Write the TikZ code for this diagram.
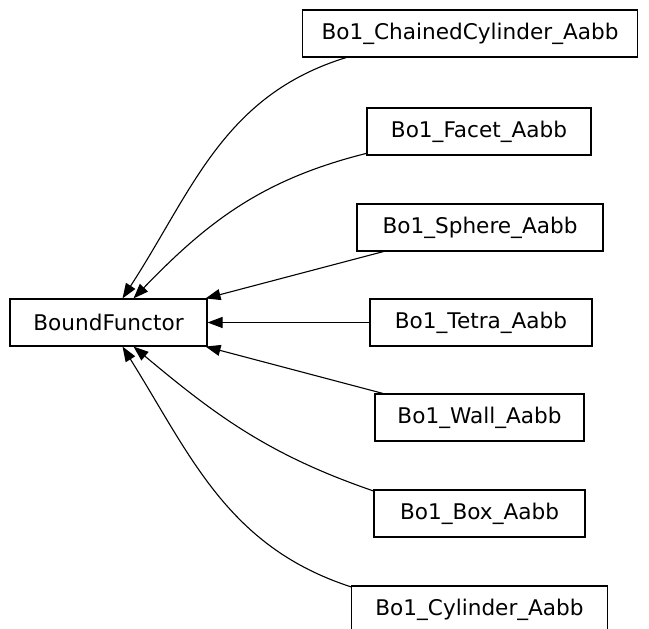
\documentclass[tikz,border=0pt]{standalone}
\usepackage{fontspec}
\setmainfont{DejaVu Sans}
\usetikzlibrary{arrows.meta}
\tikzset{
  klasse/.style={draw, line width=1.1pt, fill=white, inner xsep=19pt, minimum height=47pt, font=\fontsize{21.6}{26}\selectfont},
  pfeil/.style={line width=1.1pt, -{Triangle[length=15pt,width=11pt]}}
}
\begin{document}
\begin{tikzpicture}[x=1pt,y=1pt]
        \useasboundingbox (0,0) rectangle (649,-629);                                            % Rahmen
        \node[klasse, minimum width=197pt] (bound) at (108.5,-322.5) {BoundFunctor};              % Basisklasse
        \node[klasse, minimum width=334pt] (chained) at (470,-33.5) {Bo1\_ChainedCylinder\_Aabb}; % abgeleitete Klassen
        \node[klasse, minimum width=224pt] (facet) at (479,-131.5) {Bo1\_Facet\_Aabb};
        \node[klasse, minimum width=246pt] (sphere) at (480,-227.5) {Bo1\_Sphere\_Aabb};
        \node[klasse, minimum width=222pt] (tetra) at (481,-322.5) {Bo1\_Tetra\_Aabb};
        \node[klasse, minimum width=209pt] (wall) at (479.5,-417.5) {Bo1\_Wall\_Aabb};
        \node[klasse, minimum width=211pt] (box) at (479.5,-513.5) {Bo1\_Box\_Aabb};
        \node[klasse, minimum width=256pt] (cyl) at (479.5,-609.5) {Bo1\_Cylinder\_Aabb};
        \draw[pfeil] (chained.191) to[out=197,in=57] ([xshift=14pt]bound.north);                  % Vererbung oben
        \draw[pfeil] (facet.191) to[out=194,in=46] ([xshift=25pt]bound.north);
        \draw[pfeil] (sphere.194) -- ([xshift=-2pt]bound.north east);
        \draw[pfeil] (tetra) -- (bound);                                                         % Vererbung gerade
        \draw[pfeil] (wall.166) -- ([xshift=-2pt]bound.south east);
        \draw[pfeil] (box.168) to[out=161,in=320] ([xshift=25pt]bound.south);                    % Vererbung unten
        \draw[pfeil] (cyl.170) to[out=162,in=302] ([xshift=14pt]bound.south);
\end{tikzpicture}
\end{document}
